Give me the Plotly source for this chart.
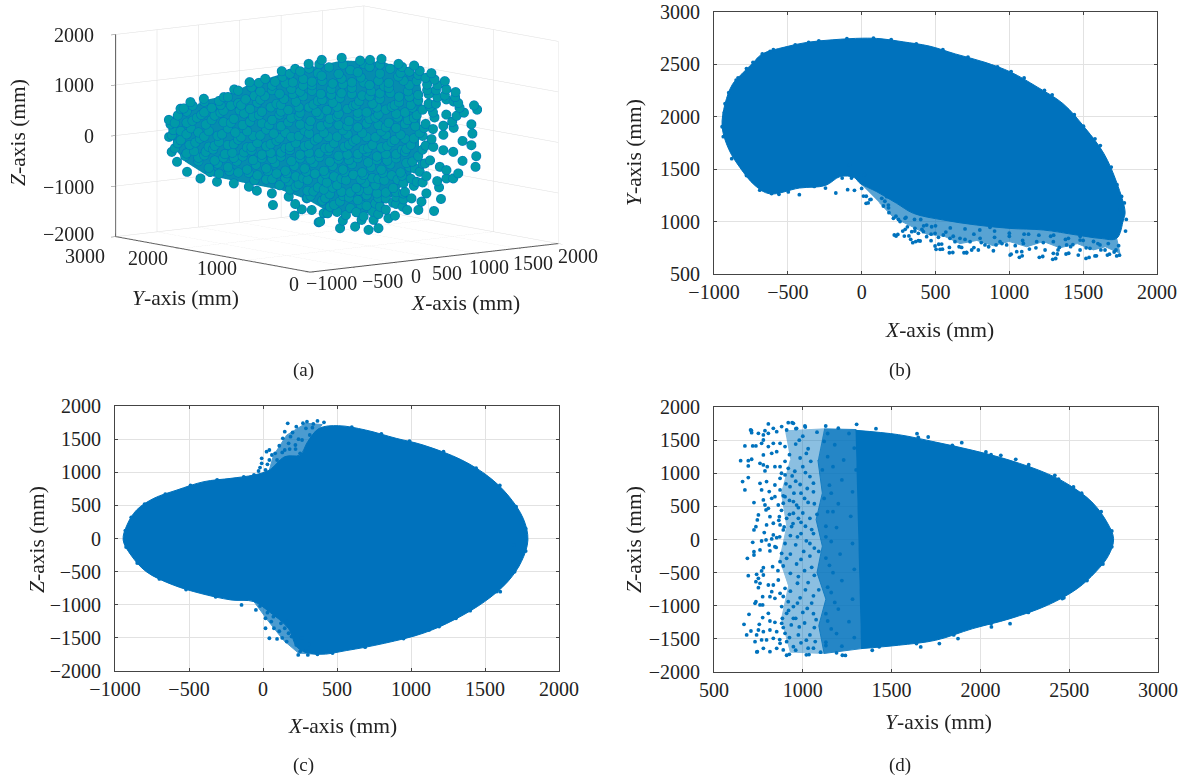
import plotly.graph_objects as go

W, H = 1182, 778
FONT = "Liberation Serif"
BLUE = "#0072BD"
TEAL = "#009AA8"
INK = "#222222"

# ---- panel (a): 3-D cloud, mm ----
a_x = [-629,-639,-621,-561,-494,-403,-267,-197,-93,13,125,216,307,396,-585,-517,-426,-314,-200,-98,-44,58,65,172,216,260,328,211,375,409,294,453,
531,656,723,801,916,1022,1139,1230,1303,1321,1428,1449,1360,1410,1417,1410,1350,1443,1438,1350,1321,1287,1241,1178,1191,1204,1157,1072,1051,975,944,900,892,848,780,713,622,520,539,435,385,1105,1027,1095,1152,1220,1287,1196,1241,1105,1004,949,791,747,666,
310,445,590,720,860,990,1100,130,270,395,530,660,780,915,1040,1180,-80,60,190,330,460,600,730,850,980,1110,1230,-240,-120,10,140,270,400,520,650,790,920,1050,1170,1290,
-480,-350,-220,-90,50,170,310,430,570,700,830,960,1080,1240,-580,-450,-330,-200,-70,60,190,320,450,580,720,850,980,1100,1280,
-610,-490,-370,-240,-110,20,150,280,410,540,670,800,930,1060,1220,-560,-430,-300,-170,-40,90,220,350,480,610,740,870,1000,
-600,-470,-340,-210,-80,50,180,310,440,570,700,830,960,1050,-440,-310,-180,-50,80,210,340,470,600,730,860,990,
-300,-170,-40,90,220,350,480,610,740,870,1000,110,240,370,500,630,760,880,1020,320,450,580,700,830,950,480,590,700,830,560,680,780,
370,510,640,790,930,1050,1160,200,330,470,600,720,850,990,1110,1240,-20,110,250,390,530,670,790,920,1050,1180,1300,
-300,-170,-40,90,220,340,470,610,740,870,1000,1130,1330,-520,-400,-270,-130,-10,110,250,380,510,640,780,910,1040,1160,1310,
-600,-520,-390,-270,-140,-10,120,250,390,510,640,780,900,1030,1150,1290,-620,-520,-400,-280,-150,-20,110,240,370,500,630,760,890,1020,1140,
-500,-370,-240,-110,20,150,280,420,550,680,800,940,1080,-530,-400,-270,-140,-10,120,250,380,510,640,770,900,1010,1130,
-370,-240,-110,20,150,280,410,540,670,800,930,1060,-60,60,170,300,430,560,690,820,950,1080,180,300,410,530,650,770,900,400,520,640,760,880,630,740,500,
250,380,540,680,790,940,1060,180,80,-30,150,270,400,540,680,820,950,1170,-170,-60,60,200,330,460,600,720,860,990,1120,1240,
-400,-290,-150,-20,120,240,370,500,630,770,890,1010,1120,-540,-420,-290,-160,-30,120,240,360,500,640,760,900,1020,1150,
-640,-480,-350,-220,-90,40,170,310,440,570,700,830,960,1090,1220,-560,-440,-310,-190,-70,70,190,310,440,570,700,830,960,1080,
-580,-460,-330,-200,-80,50,180,310,450,580,710,840,970,1100,-520,-390,-260,-130,-10,120,250,380,510,640,770,900,
-440,-330,-200,-70,60,190,320,450,580,710,840,970,1080,-360,-230,-100,30,160,290,420,550,680,810,940,
20,150,270,400,530,660,780,910,1040,220,340,470,590,710,830,960,300,420,540,660,780,900]
a_y = [2000 - v for v in a_x]
a_z = [242,-8,-303,554,688,758,798,952,1101,1172,1328,1378,1481,1564,-498,-693,-820,-880,-908,-968,-1045,-1093,-1323,-1153,-1296,-1399,-1409,-1526,-1650,-1471,-1180,-1337,
1610,1562,1579,1602,1509,1481,1336,1182,968,752,711,627,564,336,152,-78,4,-293,-504,-390,-640,-741,-743,-799,-922,-1151,-1391,-1210,-1375,-1379,-1314,-1264,-1495,-1549,-1749,-1785,-1724,-1761,-1609,-1470,-1636,-703,-556,-453,-123,-186,-215,-515,-579,-1045,-1148,-1052,-1321,-1586,-1590,
1390,1420,1370,1440,1410,1360,1240,1220,1180,1250,1200,1230,1170,1260,1180,1100,1000,1040,980,1060,990,1020,960,1030,970,1000,900,800,760,830,780,840,770,820,760,810,750,790,730,780,
620,580,630,570,610,560,620,570,600,540,600,550,610,520,420,380,430,370,420,360,410,350,400,360,410,340,400,330,380,
130,170,120,180,130,170,110,160,120,180,130,170,110,150,120,-70,-30,-90,-40,-100,-50,-90,-30,-80,-40,-100,-40,-90,
-230,-280,-240,-300,-250,-290,-230,-280,-240,-300,-240,-280,-230,-310,-480,-520,-470,-530,-490,-540,-480,-530,-490,-540,-480,-530,
-720,-690,-740,-700,-750,-690,-740,-700,-760,-700,-760,-930,-900,-960,-910,-960,-900,-950,-900,-1130,-1090,-1150,-1100,-1160,-1170,-1300,-1360,-1310,-1380,-1500,-1520,-1470,
1300,1290,1330,1310,1330,1300,1210,1110,1130,1100,1130,1080,1130,1090,1110,1020,920,880,930,890,910,870,920,860,900,860,870,
720,680,700,680,730,680,720,670,710,660,700,670,660,500,490,530,480,520,470,510,470,500,460,500,450,500,460,500,
270,280,250,300,250,290,240,280,250,280,240,290,240,280,230,260,30,50,10,60,10,50,0,50,10,50,0,50,0,40,30,
-160,-190,-150,-190,-160,-190,-150,-180,-150,-190,-150,-190,-180,-380,-360,-400,-370,-400,-360,-390,-360,-400,-370,-400,-360,-420,-390,
-610,-590,-630,-600,-640,-590,-630,-600,-650,-590,-640,-620,-840,-810,-850,-820,-860,-810,-860,-800,-850,-830,-1010,-1030,-1000,-1040,-1010,-1060,-1030,-1220,-1230,-1200,-1260,-1240,-1440,-1420,-1440,
1330,1480,1480,1500,1490,1450,1380,1280,1120,1090,1090,1050,1150,1090,1130,1060,1180,1000,930,830,950,880,950,880,900,860,930,860,920,820,
700,640,640,760,660,620,750,640,690,640,690,650,730,560,440,490,540,450,530,450,530,450,530,440,520,440,560,
330,320,340,290,320,260,320,260,310,260,320,250,320,250,300,110,90,30,100,40,90,30,100,40,100,50,100,30,90,
-130,-110,-170,-130,-180,-120,-170,-120,-170,-110,-170,-120,-170,-100,-330,-290,-330,-290,-330,-280,-320,-280,-330,-290,-330,-280,
-410,-460,-400,-440,-410,-450,-410,-450,-410,-450,-410,-450,-460,-690,-660,-690,-650,-690,-650,-690,-650,-700,-650,-700,
-820,-790,-780,-810,-780,-790,-770,-780,-820,-950,-1040,-960,-1050,-1000,-1040,-1020,-1170,-1170,-1120,-1280,-1150,-1120]
# dense core of the cloud behind the visible spheres
core_x = [322,-471,-458,-380,-237,36,270,452,608,868,1024,1128,1206,1206,1232,1206,972,686,478,244,62,-94,-250,-380]
core_y = [2020,2813,2800,2722,2579,2306,2072,1890,1734,1474,1318,1214,1136,1136,1110,1136,1370,1656,1864,2098,2280,2436,2592,2722]
core_z = [21,148,-278,-569,-826,-978,-1098,-1287,-1543,-1531,-1195,-862,-464,62,720,1179,1464,1483,1342,1167,994,758,652,416]

# ---- panel (b): X-Y ----
b_core_x = [-945,-925,-875,-811,-736,-673,-522,-371,-195,6,131,282,458,634,835,1012,1188,1364,1515,1640,1728,1784,1772,1727,1614,1456,1230,1005,779,553,350,237,102,-11,-50,-145,-245,-422,-623,-723,-824,-900,-945]
b_core_y = [1905,2125,2310,2410,2515,2600,2665,2710,2735,2750,2745,2715,2675,2600,2520,2425,2285,2125,1890,1650,1370,1090,1015,840,840,872,920,935,967,1015,1079,1174,1285,1365,1420,1430,1345,1320,1265,1345,1515,1690,1905]
b_band_x = [-11,102,237,350,553,779,1005,1230,1456,1614,1727,1749,1650,1569,1460,1343,1230,1118,1000,892,780,666,560,440,330,215,120]
b_band_y = [1365,1285,1174,1079,1015,967,935,920,872,840,840,697,760,730,790,750,810,760,810,770,820,790,860,880,960,1040,1180]
b_x = [221,233,278,289,332,346,384,339,361,470,497,504,531,542,594,594,632,677,693,711,745,790,835,892,910,1005,1068,1050,1084,1136,1203,1294,1325,1384,1298,1242,1339,1415,1467,1479,1519,1580,1546,1664,1727,1722,1648,1614,185,215,249,294,170,136,63,30,12,0,147,181,418,440,474,869,1569,1682,1761,1749,1479,1388,1298,1185,1095,982,937,802,734,666,598,553,497,440,384,
-359,-598,-673,-736,-837,-945,-937,-925,1012,1238,1414,1502,1616,1729,1779,1792,1787,-422,-497,-610,-175,-95,-49,-82,-170,-132,-69,31,56,44,19,-245,-321,-396,157,182,232,245,295,320,366,396,358,408,522,547,617,710,760,1012,1087,1226,1314,1402,1540,1590,1678,1746,
-930,-900,-850,-780,-700,-620,-450,-290,-100,80,200,370,550,720,920,1100,1290,1440,1580,1690,1760,-880,-780,-690,-560,
260,310,360,420,470,520,570,620,660,700,760,810,860,900,950,1000,1040,1090,1130,1180,1230,1280,1330,1380,1430,1480,1520,1570,1620,1670,1710,1740,300,400,500,600,700,800,900,1000,1100,1200,1300,1400,1500,1600]
b_y = [872,862,910,862,831,799,818,904,936,818,767,735,735,786,703,754,808,754,703,703,729,729,777,722,777,681,659,713,713,738,659,640,691,691,697,729,754,761,681,729,649,672,745,681,672,729,729,777,1085,1031,1021,1031,1238,1222,1212,1174,1244,1317,1149,1158,904,967,951,945,872,856,1015,1110,824,777,808,808,792,777,808,840,808,840,840,872,888,856,888,
2710,2640,2599,2520,2372,1905,1810,2125,2432,2252,2015,1911,1725,1352,1178,1021,910,1257,1283,1267,1273,1305,1298,1541,1478,1415,1415,1242,1210,1178,1447,1320,1336,1384,1194,1131,1052,878,926,863,809,815,1021,926,784,737,705,705,752,689,673,667,648,698,658,673,689,680,
2040,2230,2350,2460,2550,2625,2685,2725,2745,2750,2735,2695,2640,2570,2475,2370,2210,2020,1790,1520,1240,1600,1440,1300,1260,
1000,950,910,960,880,850,900,860,760,830,880,800,760,850,790,860,770,820,880,750,800,860,730,830,780,860,750,810,730,790,710,770,1040,1020,960,940,930,920,910,890,880,870,870,840,820,790]

# ---- panel (c): X-Z ----
c_core_x = [-945,-919,-854,-737,-581,-399,-217,-61,43,147,250,302,380,510,692,900,1082,1343,1524,1654,1758,1790,1746,1654,1498,1290,1082,822,562,380,237,171,40,-61,-217,-425,-607,-789,-893,-945]
c_core_z = [-22,204,431,607,732,858,908,959,1034,1235,1261,1462,1663,1703,1638,1512,1411,1185,934,657,305,-22,-349,-651,-952,-1229,-1430,-1581,-1692,-1747,-1657,-1355,-1103,-953,-927,-827,-701,-500,-248,-22]
c_band_top_x = [43,70,160,290,400,330,250]
c_band_top_z = [1034,1250,1560,1740,1720,1500,1261]
c_band_bot_x = [-61,30,140,240,370,300,171]
c_band_bot_z = [-953,-1230,-1540,-1730,-1750,-1400,-1100]
c_x = [167,147,134,225,297,368,412,186,173,219,251,43,82,-9,-9,24,95,43,-30,-61,17,147,264,316,290,334,-145,-48,17,56,95,17,74,147,43,95,160,225,251,303,238,368,433,193,121,173,1122,1304,1603,1720,1694,
-930,-890,-800,-660,-490,-310,-130,600,800,990,1220,1440,1600,1710,1775,1775,1700,1580,1400,1190,950,690,470,-320,-520,-700,-850,-925,
60,110,130,200,240,180,340,270,220,-20,30,30,70,110,160,210,130,290,310,260,-20]
c_z = [1738,1613,1512,1688,1764,1774,1754,1537,1437,1411,1286,1336,1286,1210,1135,1311,1185,1185,1019,959,1034,1336,1487,1562,1663,1673,-1003,-1078,-1204,-1254,-1154,-1355,-1355,-1355,-1506,-1516,-1556,-1607,-1707,-1757,-1757,-1747,-1707,-1481,-1280,-1430,-1380,-1204,-802,-399,-98,
120,320,520,670,800,885,930,1680,1580,1470,1310,1060,800,480,150,-190,-500,-800,-1090,-1330,-1510,-1640,-1730,-880,-770,-610,-370,-130,
1260,1400,1300,1600,1500,1350,1730,1740,1350,1070,1120,-1120,-1180,-1400,-1250,-1450,-1500,-1700,-1600,-1500,-1020]

# ---- panel (d): Y-Z ----
d_core_y = [1297,1538,1748,1957,2167,2377,2503,2628,2712,2750,2722,2649,2545,2377,2167,1957,1748,1538,1328]
d_core_z = [1648,1583,1470,1346,1195,994,818,566,265,13,-239,-490,-742,-993,-1195,-1345,-1521,-1596,-1647]
d_band1_y = [1120,1300,1330,1120,1090,1130,1080,1110,1075,1110,1085]
d_band1_z = [1670,1660,-1647,-1720,-1300,-900,-500,-100,300,700,1200]
d_band2_y = [900,1120,1085,1110,1075,1110,1080,1130,1090,1120,930,880,920,870,910,880,930]
d_band2_z = [1640,1670,1200,700,300,-100,-500,-900,-1300,-1720,-1700,-1200,-700,-300,200,700,1200]
d_y = [706,712,806,918,947,881,834,787,750,778,806,778,768,853,909,965,1012,674,718,736,778,806,834,872,825,853,900,650,693,712,693,759,778,800,787,843,872,918,693,661,674,759,796,768,811,843,872,900,872,843,928,900,725,778,787,793,825,806,862,890,947,750,744,815,834,796,868,909,947,736,725,783,834,890,937,872,
718,768,793,825,853,811,843,759,725,725,688,815,881,830,872,909,778,768,740,693,778,750,736,759,750,806,834,774,736,731,759,774,825,815,843,872,900,862,806,697,774,669,755,815,843,881,708,684,750,740,778,815,853,731,768,796,834,744,778,815,853,890,924,872,909,947,900,947,909,881,918,947,
980,1020,1000,960,1040,990,1060,975,1030,1080,990,1050,970,1040,1090,990,1050,975,1030,1090,985,1050,1000,1075,980,1040,990,1060,1020,1100,1080,1120,1140,1110,1150,1120,1170,1130,1160,1130,1170,1140,1180,1130,1160,1130,1190,1240,
710,940,961,1014,1129,1303,1412,1643,1706,1842,1895,2031,2115,2199,2272,2419,2524,2461,2167,2062,1874,1769,1664,1391,1223,1035,909,741,
1650,1850,2060,2270,2440,2570,2680,2740,2740,2690,2600,2470,2270,2060,1850,1640,1430,
1000,960,1030,925,985,1045,900,955,1015,880,1060,940,985,905,1025,950,890,1010,925,1065,965,880,1000,1040,925,975,865,1015,945,895,1060,990,930,870,1020,960,900,1065,850,1005,930,1040,965,890,1010,930,1065,860,970,1015,930,1060,890,970,1025,920,1060,960,885,1010,935,1065,890,975,1020,925,870,1070,960,1030,
1140,1200,1260,1180,1290,1230,1170,1300,1220,1160,1280,1200,1140,1270,1190,1130,1280,1210,1150,1290,1220,1160,1280,1200,1140,1260,1190,1290,1130,1220]
d_z = [1653,1613,1744,1764,1754,1704,1678,1643,1603,1578,1603,1502,1452,1628,1653,1678,1714,1412,1412,1412,1276,1402,1452,1452,1301,1326,1402,1190,1190,1211,1110,1150,1125,1100,1035,1100,1100,1075,934,874,748,848,874,748,723,823,924,974,748,647,798,647,557,597,521,446,622,471,521,547,572,371,295,345,245,220,345,320,396,194,144,104,69,144,195,220,
-43,-23,-7,8,28,-83,-108,-158,-184,-234,-284,-173,-209,-410,-334,-284,-425,-475,-526,-546,-536,-586,-636,-661,-727,-687,-687,-863,-938,-963,-988,-988,-787,-863,-888,-812,-737,-611,-1114,-1129,-1179,-1280,-1280,-1230,-1250,-1265,-1381,-1441,-1366,-1441,-1391,-1366,-1391,-1542,-1516,-1516,-1491,-1693,-1642,-1693,-1642,-1667,-1733,-1567,-1542,-1617,-1416,-1190,-1114,-1013,-938,-1013,
1500,1300,1100,880,950,700,720,480,560,380,260,150,40,-60,-180,-300,-420,-560,-650,-760,-880,-960,-1100,-1210,-1320,-1440,-1560,-1640,-1740,-1700,1620,1480,1250,1050,820,620,420,200,-30,-280,-500,-720,-950,-1120,-1350,-1550,-1710,-1750,
1648,1764,1673,1698,1713,1738,1673,1598,1547,1422,1462,1321,1271,1210,1130,969,793,-892,-1270,-1320,-1496,-1571,-1622,-1672,-1747,-1737,-1747,-1697,
1540,1390,1280,1100,910,700,420,130,-110,-370,-620,-880,-1100,-1270,-1440,-1570,-1620,
1560,1440,1370,1280,1230,1180,1180,1030,1010,1000,850,960,830,840,770,700,660,620,590,540,520,440,400,320,380,320,290,200,240,190,90,90,60,40,-20,-80,-60,-130,-120,-180,-220,-250,-370,-400,-470,-510,-540,-470,-660,-760,-780,-850,-860,-960,-1040,-1070,-1120,-1190,-1190,-1260,-1290,-1330,-1330,-1440,-1520,-1480,-1510,-1540,-1670,-1640,
1600,1680,1600,1430,1380,1200,1100,1050,900,700,720,540,420,350,180,40,-60,-220,-390,-450,-620,-800,-900,-1050,-1230,-1240,-1420,-1480,-1600,-1610]

x_ticks_mm = [-1000,-500,0,500,1000,1500,2000]
yb_ticks = [500,1000,1500,2000,2500,3000]
z_ticks = [-2000,-1500,-1000,-500,0,500,1000,1500,2000]
yd_ticks = [500,1000,1500,2000,2500,3000]
z3_ticks = [-2000,-1000,0,1000,2000]
y3_ticks = [0,1000,2000,3000]

def fx(p): return p / W
def fy(p): return 1 - p / H

fig = go.Figure()

def blob(x, y, ax, ay, op=1.0, shape="linear"):
    fig.add_trace(go.Scatter(x=x, y=y, mode="lines", fill="toself", fillcolor=BLUE, opacity=op,
                             line=dict(color=BLUE, width=1, shape=shape), xaxis=ax, yaxis=ay, showlegend=False, hoverinfo="skip"))

def dots(x, y, ax, ay):
    fig.add_trace(go.Scatter(x=x, y=y, mode="markers", marker=dict(size=3.8, color=BLUE),
                             xaxis=ax, yaxis=ay, showlegend=False))

fig.add_trace(go.Mesh3d(x=core_x, y=core_y, z=core_z, color="#058DAE", flatshading=True,
                        i=[0]*(len(core_x)-1), j=list(range(1, len(core_x))), k=list(range(2, len(core_x)))+[1],
                        lighting=dict(ambient=1, diffuse=0, specular=0, fresnel=0, roughness=1), hoverinfo="skip", scene="scene"))
fig.add_trace(go.Scatter3d(x=a_x, y=a_y, z=a_z, mode="markers", marker=dict(size=5.5, color=TEAL, line=dict(color=BLUE, width=0.6)), scene="scene", showlegend=False))

blob(b_band_x, b_band_y, "x", "y", 0.65)
blob(b_core_x, b_core_y, "x", "y", shape="spline")
dots(b_x, b_y, "x", "y")
blob(c_band_top_x, c_band_top_z, "x2", "y2", 0.7)
blob(c_band_bot_x, c_band_bot_z, "x2", "y2", 0.7)
blob(c_core_x, c_core_z, "x2", "y2", shape="spline")
dots(c_x, c_z, "x2", "y2")
blob(d_band2_y, d_band2_z, "x3", "y3", 0.45)
blob(d_band1_y, d_band1_z, "x3", "y3", 0.85)
blob(d_core_y, d_core_z, "x3", "y3", shape="spline")
dots(d_y, d_z, "x3", "y3")

ax = dict(showgrid=True, gridcolor="#E2E2E2", gridwidth=1, zeroline=False, showline=True, linecolor="#444444", linewidth=1,
          mirror="allticks", ticks="inside", ticklen=3, tickcolor="#444444", automargin=False,
          tickfont=dict(family=FONT, size=20, color=INK))
xa = dict(ax, ticklabelstandoff=0)
ya = dict(ax, ticklabelstandoff=9)
scene_ax = dict(title=dict(text=""), showbackground=False, gridcolor="#DEDEDE", gridwidth=1, showline=True, linecolor="#555555", linewidth=2,
                zeroline=False, showticklabels=False, ticks="outside", ticklen=6, tickcolor="#777777", showspikes=False)

def text(p_x, p_y, s, rot=0, size=21.5):
    return dict(x=fx(p_x), y=fy(p_y), xref="paper", yref="paper", text=s, showarrow=False, textangle=rot,
                xanchor="center", yanchor="middle", font=dict(family=FONT, size=size, color=INK))

ann = [text(18,133,"<i>Z</i>-axis (mm)",-90), text(185,298,"<i>Y</i>-axis (mm)"), text(465,303,"<i>X</i>-axis (mm)"),
       text(303,370,"(a)",size=19), text(900,370,"(b)",size=19), text(303,765,"(c)",size=19), text(900,765,"(d)",size=19),
       text(939,330,"<i>X</i>-axis (mm)"), text(634,153,"<i>Y</i>-axis (mm)",-90),
       text(342,726,"<i>X</i>-axis (mm)"), text(37,540,"<i>Z</i>-axis (mm)",-90),
       text(938,722,"<i>Y</i>-axis (mm)"), text(634,540,"<i>Z</i>-axis (mm)",-90)]
for v, py in zip(z3_ticks, [234,187,136,85,35]):
    ann.append(dict(text(0,py,str(v).replace("-","\u2212"),size=20), x=fx(96), xanchor="right"))
for v, (px, py) in zip(y3_ticks, [(294,284),(217,268),(148,258),(85,256)]):
    ann.append(text(px,py,str(v),size=20))
for v, (px, py) in zip(x_ticks_mm, [(331,283),(382,281),(416,276),(447,273),(489,267),(533,263),(578,256)]):
    ann.append(text(px,py,str(v).replace("-","\u2212"),size=20))

fig.update_layout(
    template=None, width=W, height=H, margin=dict(l=0, r=0, t=0, b=0), paper_bgcolor="white", plot_bgcolor="white", showlegend=False,
    font=dict(family=FONT, size=20, color=INK), annotations=ann,
    xaxis=dict(xa, domain=[fx(714), fx(1157)], range=[-1000, 2000], tickvals=x_ticks_mm, anchor="y"),
    yaxis=dict(ya, domain=[fy(274), fy(12)], range=[500, 3000], tickvals=yb_ticks, anchor="x"),
    xaxis2=dict(xa, domain=[fx(115), fx(559)], range=[-1000, 2000], tickvals=x_ticks_mm, anchor="y2"),
    yaxis2=dict(ya, domain=[fy(671), fy(406)], range=[-2000, 2000], tickvals=z_ticks, anchor="x2"),
    xaxis3=dict(xa, domain=[fx(714), fx(1158)], range=[500, 3000], tickvals=yd_ticks, anchor="y3"),
    yaxis3=dict(ya, domain=[fy(672), fy(407)], range=[-2000, 2000], tickvals=z_ticks, anchor="x3"),
    scene=dict(
        domain=dict(x=[fx(102), fx(572)], y=[fy(278), 1]),
        camera=dict(projection=dict(type="orthographic"), eye=dict(x=-1.23, y=-1.55, z=0.29), center=dict(x=0, y=0, z=0), up=dict(x=0, y=0, z=1)),
        aspectmode="manual", aspectratio=dict(x=2.28, y=2.25, z=1.47),
        xaxis=dict(scene_ax, range=[-1000, 2000], tickvals=x_ticks_mm),
        yaxis=dict(scene_ax, range=[0, 3000], tickvals=y3_ticks),
        zaxis=dict(scene_ax, range=[-2000, 2000], tickvals=z3_ticks),
    ),
)
fig.write_html("out.html", post_script="document.body.style.margin='0';", config=dict(displayModeBar=False))
